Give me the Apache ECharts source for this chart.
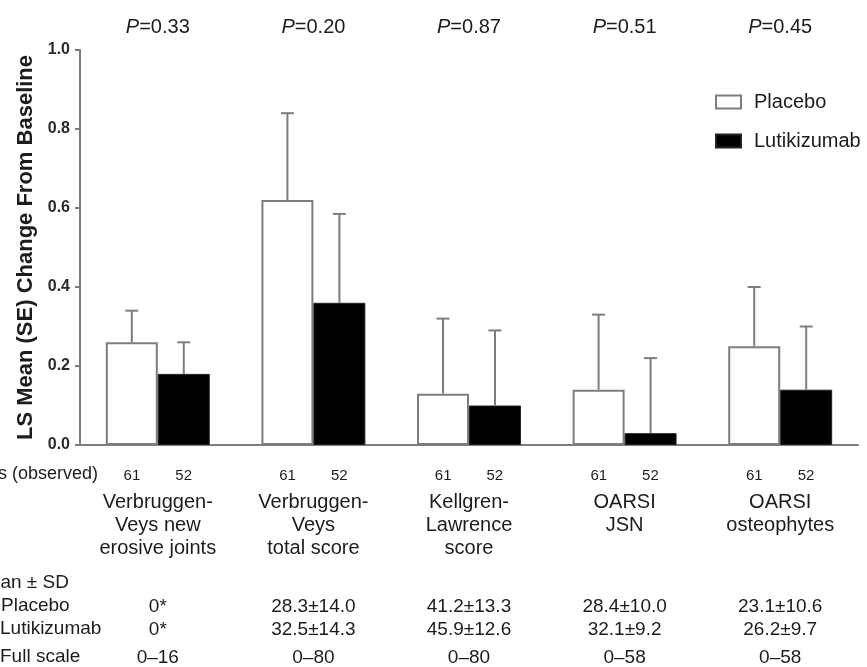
<!DOCTYPE html>
<html>
<head>
<meta charset="utf-8">
<script src="https://cdn.jsdelivr.net/npm/echarts@6/dist/echarts.min.js"></script>
<style>
  html, body { margin: 0; padding: 0; background: #fff; }
  #chart { width: 867px; height: 667px; }
</style>
</head>
<body>
<div id="chart"></div>
<script>
// Radiographic outcomes: LS mean (SE) change from baseline by arm
const categories = [
  'Verbruggen-\nVeys new\nerosive joints',
  'Verbruggen-\nVeys\ntotal score',
  'Kellgren-\nLawrence\nscore',
  'OARSI\nJSN',
  'OARSI\nosteophytes'
];
const pValues = ['0.33', '0.20', '0.87', '0.51', '0.45'];

const placeboMean = [0.26, 0.62, 0.13, 0.14, 0.25];
const placeboSE   = [0.08, 0.22, 0.19, 0.19, 0.15];
const lutiMean    = [0.18, 0.36, 0.10, 0.03, 0.14];
const lutiSE      = [0.08, 0.225, 0.19, 0.19, 0.16];

const nPlacebo = [61, 61, 61, 61, 61];
const nLuti    = [52, 52, 52, 52, 52];

const baselinePlacebo = ['0*', '28.3\u00b114.0', '41.2\u00b113.3', '28.4\u00b110.0', '23.1\u00b110.6'];
const baselineLuti    = ['0*', '32.5\u00b114.3', '45.9\u00b112.6', '32.1\u00b19.2', '26.2\u00b19.7'];
const fullScale       = ['0\u201316', '0\u201380', '0\u201380', '0\u201358', '0\u201358'];

const yMin = 0, yMax = 1, yStep = 0.2;

const FONT = '"Liberation Sans", Arial, Helvetica, sans-serif';
const TEXT = '#1c1c1c';
const GREY = '#7d7d7d';
const BAR_FRAC = 0.334;

// error-bar records: [category index, mean, mean + SE, side (-1 placebo, +1 lutikizumab)]
const errData = [];
categories.forEach((c, i) => {
  errData.push([i, placeboMean[i], placeboMean[i] + placeboSE[i], -1]);
  errData.push([i, lutiMean[i], lutiMean[i] + lutiSE[i], 1]);
});

const chart = echarts.init(document.getElementById('chart'));

function rowAxis(data, margin) {
  return {
    type: 'category',
    gridIndex: 0,
    position: 'bottom',
    data: data,
    axisLine: { show: false },
    axisTick: { show: false },
    splitLine: { show: false },
    axisLabel: {
      margin: margin,
      interval: 0,
      fontFamily: FONT,
      fontSize: 19,
      color: TEXT,
      lineHeight: 22
    }
  };
}

const option = {
  backgroundColor: '#fff',
  animation: false,
  grid: { left: 80, right: 9, top: 50, bottom: 222, containLabel: false, outerBoundsMode: 'none' },
  legend: {
    data: ['Placebo', 'Lutikizumab'],
    orient: 'vertical',
    left: 715,
    top: 92,
    padding: 0,
    itemWidth: 25,
    itemHeight: 13,
    itemGap: 19,
    icon: 'rect',
    selectedMode: false,
    textStyle: { fontFamily: FONT, fontSize: 20, color: TEXT, padding: [0, 0, 0, 8] }
  },
  xAxis: [
    {
      type: 'category',
      data: categories,
      axisLine: { lineStyle: { color: GREY, width: 2 } },
      axisTick: { alignWithLabel: true, length: 5, lineStyle: { color: GREY, width: 2 } },
      splitLine: { show: false },
      axisLabel: {
        interval: 0,
        margin: 15,
        color: TEXT,
        fontFamily: FONT,
        formatter: function (value, idx) {
          const lines = value.split('\n').map(l => '{c|' + l + '}');
          return '{n|' + nPlacebo[idx] + '}{g|}{n|' + nLuti[idx] + '}\n' + lines.join('\n');
        },
        rich: {
          n: { fontSize: 15, fontFamily: FONT, color: TEXT, lineHeight: 31 },
          g: { width: 35, lineHeight: 31 },
          c: { fontSize: 20, fontFamily: FONT, color: TEXT, lineHeight: 23, align: 'center' }
        }
      }
    },
    rowAxis(baselinePlacebo, 151),
    rowAxis(baselineLuti, 174),
    rowAxis(fullScale, 202),
    {
      type: 'category',
      gridIndex: 0,
      position: 'top',
      data: pValues,
      axisLine: { show: false },
      axisTick: { show: false },
      splitLine: { show: false },
      axisLabel: {
        interval: 0,
        margin: 13,
        formatter: v => '{i|P}{t|=' + v + '}',
        rich: {
          i: { fontFamily: FONT, fontSize: 20, fontStyle: 'italic', color: TEXT },
          t: { fontFamily: FONT, fontSize: 20, color: TEXT }
        }
      }
    }
  ],
  yAxis: {
    type: 'value',
    min: yMin,
    max: yMax,
    interval: yStep,
    name: 'LS Mean (SE) Change From Baseline',
    nameLocation: 'middle',
    nameGap: 40,
    nameTextStyle: { fontFamily: FONT, fontSize: 22, fontWeight: 'bold', color: TEXT },
    axisLine: { show: true, lineStyle: { color: GREY, width: 2 } },
    axisTick: { show: true, length: 5, lineStyle: { color: GREY, width: 2 } },
    splitLine: { show: false },
    axisLabel: {
      margin: 10,
      fontFamily: FONT,
      fontSize: 16,
      fontWeight: 'bold',
      color: '#2a2a2a',
      formatter: v => v.toFixed(1)
    }
  },
  series: [
    {
      name: 'Placebo',
      type: 'bar',
      data: placeboMean,
      barWidth: (BAR_FRAC * 100) + '%',
      barGap: '0%',
      itemStyle: { color: '#ffffff', borderColor: GREY, borderWidth: 2 }
    },
    {
      name: 'Lutikizumab',
      type: 'bar',
      data: lutiMean,
      barWidth: (BAR_FRAC * 100) + '%',
      barGap: '0%',
      itemStyle: { color: '#000000', borderColor: '#222', borderWidth: 1 }
    },
    {
      name: 'SE',
      type: 'custom',
      z: 5,
      data: errData,
      encode: { x: 0, y: 2 },
      renderItem: function (params, api) {
        const i = api.value(0);
        const base = api.coord([i, api.value(1)]);
        const top = api.coord([i, api.value(2)]);
        const bw = api.size([1, 0])[0] * BAR_FRAC;
        const x = base[0] + api.value(3) * bw / 2;
        const st = { stroke: GREY, lineWidth: 2 };
        return {
          type: 'group',
          children: [
            { type: 'line', shape: { x1: x, y1: base[1], x2: x, y2: top[1] }, style: st },
            { type: 'line', shape: { x1: x - 6.5, y1: top[1], x2: x + 6.5, y2: top[1] }, style: st }
          ]
        };
      }
    }
  ],
  graphic: [
    { type: 'text', right: 867 - 98, top: 465, style: { text: 'No. of patients (observed)', font: '18px ' + FONT, fill: TEXT } },
    { type: 'text', left: -26, top: 573, style: { text: 'Mean \u00b1 SD', font: '19px ' + FONT, fill: TEXT } },
    { type: 'text', left: 1, top: 596, style: { text: 'Placebo', font: '19px ' + FONT, fill: TEXT } },
    { type: 'text', left: 0, top: 619, style: { text: 'Lutikizumab', font: '19px ' + FONT, fill: TEXT } },
    { type: 'text', left: 0, top: 647, style: { text: 'Full scale', font: '19px ' + FONT, fill: TEXT } }
  ]
};

chart.setOption(option);
</script>
</body>
</html>
